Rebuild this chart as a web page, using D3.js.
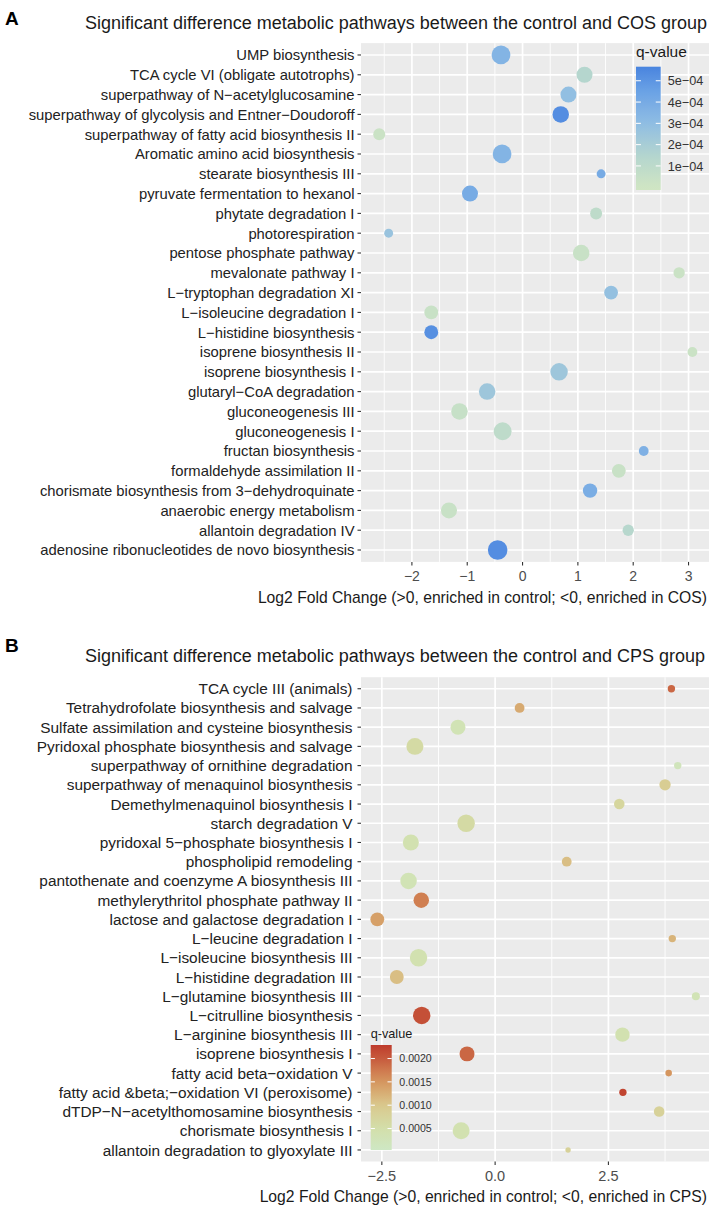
<!DOCTYPE html>
<html><head><meta charset="utf-8">
<script src="https://cdn.jsdelivr.net/npm/d3@7"></script>
<style>
body{margin:0;background:#fff;}
text{font-family:"Liberation Sans",Arial,Helvetica,sans-serif;}
</style>
</head><body>
<svg id="chart" width="714" height="1207"></svg>
<script>
// ---------- Panel A data ----------
const pathwaysA = [
  "UMP biosynthesis",
  "TCA cycle VI (obligate autotrophs)",
  "superpathway of N\u2212acetylglucosamine",
  "superpathway of glycolysis and Entner\u2212Doudoroff",
  "superpathway of fatty acid biosynthesis II",
  "Aromatic amino acid biosynthesis",
  "stearate biosynthesis III",
  "pyruvate fermentation to hexanol",
  "phytate degradation I",
  "photorespiration",
  "pentose phosphate pathway",
  "mevalonate pathway I",
  "L\u2212tryptophan degradation XI",
  "L\u2212isoleucine degradation I",
  "L\u2212histidine biosynthesis",
  "isoprene biosynthesis II",
  "isoprene biosynthesis I",
  "glutaryl\u2212CoA degradation",
  "gluconeogenesis III",
  "gluconeogenesis I",
  "fructan biosynthesis",
  "formaldehyde assimilation II",
  "chorismate biosynthesis from 3\u2212dehydroquinate",
  "anaerobic energy metabolism",
  "allantoin degradation IV",
  "adenosine ribonucleotides de novo biosynthesis"
];
const log2fcA = [-0.39, 1.12, 0.83, 0.69, -2.59, -0.37, 1.42, -0.95, 1.33, -2.42,
  1.06, 2.83, 1.60, -1.65, -1.65, 3.07, 0.66, -0.64, -1.14, -0.36,
  2.19, 1.74, 1.22, -1.33, 1.91, -0.45];
const qvalueA = [3.5e-4, 1.4e-4, 2.9e-4, 5.3e-4, 0.3e-4, 3.5e-4, 4.0e-4, 4.0e-4, 0.9e-4, 2.6e-4,
  0.4e-4, 0.3e-4, 2.8e-4, 0.4e-4, 5.2e-4, 0.3e-4, 2.4e-4, 2.4e-4, 0.5e-4, 0.9e-4,
  3.7e-4, 0.4e-4, 3.9e-4, 0.4e-4, 1.3e-4, 5.3e-4];
const countA = [22, 16, 16, 17, 9, 22, 5, 16, 9, 5,
  17, 8, 12, 12, 12, 6, 19, 17, 17, 20,
  6, 12, 13, 16, 8, 24];
const xTicksA = [-2, -1, 0, 1, 2, 3];
const legendTicksA = [1e-4, 2e-4, 3e-4, 4e-4, 5e-4];
const legendLabelsA = ["1e\u221204", "2e\u221204", "3e\u221204", "4e\u221204", "5e\u221204"];

// ---------- Panel B data ----------
const pathwaysB = [
  "TCA cycle III (animals)",
  "Tetrahydrofolate biosynthesis and salvage",
  "Sulfate assimilation and cysteine biosynthesis",
  "Pyridoxal phosphate biosynthesis and salvage",
  "superpathway of ornithine degradation",
  "superpathway of menaquinol biosynthesis",
  "Demethylmenaquinol biosynthesis I",
  "starch degradation V",
  "pyridoxal 5\u2212phosphate biosynthesis I",
  "phospholipid remodeling",
  "pantothenate and coenzyme A biosynthesis III",
  "methylerythritol phosphate pathway II",
  "lactose and galactose degradation I",
  "L\u2212leucine degradation I",
  "L\u2212isoleucine biosynthesis III",
  "L\u2212histidine degradation III",
  "L\u2212glutamine biosynthesis III",
  "L\u2212citrulline biosynthesis",
  "L\u2212arginine biosynthesis III",
  "isoprene biosynthesis I",
  "fatty acid beta\u2212oxidation V",
  "fatty acid &beta;\u2212oxidation VI (peroxisome)",
  "dTDP\u2212N\u2212acetylthomosamine biosynthesis",
  "chorismate biosynthesis I",
  "allantoin degradation to glyoxylate III"
];
const log2fcB = [3.89, 0.54, -0.82, -1.77, 4.03, 3.75, 2.74, -0.64, -1.86, 1.58,
  -1.91, -1.63, -2.60, 3.91, -1.69, -2.17, 4.43, -1.62, 2.81, -0.62,
  3.83, 2.82, 3.62, -0.75, 1.61];
const qvalueB = [0.0019, 0.0013, 0.0003, 0.0006, 0.0002, 0.0009, 0.0007, 0.0006, 0.0004, 0.0011,
  0.0003, 0.0017, 0.0014, 0.0012, 0.0004, 0.0011, 0.0003, 0.0021, 0.0004, 0.0019,
  0.0015, 0.0022, 0.0008, 0.0004, 0.0008];
const countB = [3.4, 6, 14, 18, 3.4, 8, 7, 19, 16, 6,
  17, 15, 12, 3.4, 19, 12, 4, 19, 13, 14,
  2.7, 3.4, 7, 18, 1.8];
const xTicksB = [-2.5, 0, 2.5];
const legendTicksB = [0.0005, 0.0010, 0.0015, 0.0020];
const legendLabelsB = ["0.0005", "0.0010", "0.0015", "0.0020"];

// ---------- drawing ----------
const svg = d3.select("#chart");
const rScale = d3.scaleSqrt().domain([0, 24]).range([0, 9.8]);

function drawPanel(o) {
  const g = svg.append("g");
  const x = d3.scaleLinear().domain(o.xDomain).range([o.px0, o.px1]);
  const y = d3.scalePoint().domain(o.cats).range([o.py0, o.py1]).padding(0.6);

  // panel letter & title
  g.append("text").attr("x", 5).attr("y", o.letterY).text(o.letter)
    .attr("font-size", 19).attr("font-weight", "bold").attr("fill", "#000");
  g.append("text").attr("x", 85).attr("y", o.titleY).text(o.title)
    .attr("font-size", 18).attr("fill", "#1a1a1a");

  // background
  g.append("rect").attr("x", o.px0).attr("y", o.py0)
    .attr("width", o.px1 - o.px0).attr("height", o.py1 - o.py0).attr("fill", "#ebebeb");

  // minor vertical gridlines
  const [d0, d1] = o.xDomain;
  const minor = [];
  for (let i = 0; i < o.xTicks.length - 1; i++) minor.push((o.xTicks[i] + o.xTicks[i + 1]) / 2);
  const step = o.xTicks[1] - o.xTicks[0];
  minor.push(o.xTicks[0] - step / 2, o.xTicks[o.xTicks.length - 1] + step / 2);
  g.selectAll(".minor").data(minor.filter(v => v > d0 && v < d1)).join("line")
    .attr("x1", d => x(d)).attr("x2", d => x(d)).attr("y1", o.py0).attr("y2", o.py1)
    .attr("stroke", "#fff").attr("stroke-width", 0.9);
  // major gridlines
  g.selectAll(".vmaj").data(o.xTicks).join("line")
    .attr("x1", d => x(d)).attr("x2", d => x(d)).attr("y1", o.py0).attr("y2", o.py1)
    .attr("stroke", "#fff").attr("stroke-width", 1.7);
  g.selectAll(".hmaj").data(o.cats).join("line")
    .attr("x1", o.px0).attr("x2", o.px1).attr("y1", d => y(d)).attr("y2", d => y(d))
    .attr("stroke", "#fff").attr("stroke-width", 1.7);

  // y axis labels + ticks
  g.selectAll(".ylab").data(o.cats).join("text")
    .attr("x", o.px0 - o.labelGap).attr("y", d => y(d)).attr("dy", "0.36em")
    .attr("text-anchor", "end").attr("font-size", o.labelSize).attr("fill", "#222").text(d => d);
  g.selectAll(".ytick").data(o.cats).join("line")
    .attr("x1", o.px0 - 3.5).attr("x2", o.px0).attr("y1", d => y(d)).attr("y2", d => y(d))
    .attr("stroke", "#333").attr("stroke-width", 1.1);

  // x axis ticks + labels
  g.selectAll(".xtick").data(o.xTicks).join("line")
    .attr("x1", d => x(d)).attr("x2", d => x(d)).attr("y1", o.py1).attr("y2", o.py1 + 3.5)
    .attr("stroke", "#333").attr("stroke-width", 1.1);
  g.selectAll(".xlab").data(o.xTicks).join("text")
    .attr("x", d => x(d)).attr("y", o.py1 + 14).attr("dy", "0.36em")
    .attr("text-anchor", "middle").attr("font-size", o.tickSize).attr("fill", "#4d4d4d")
    .text(o.tickFmt);
  g.append("text").attr("x", 707).attr("y", o.py1 + 35).attr("dy", "0.36em")
    .attr("text-anchor", "end").attr("font-size", 15.7).attr("fill", "#1a1a1a").text(o.xTitle);

  // points
  const idx = d3.range(o.cats.length);
  g.selectAll(".pt").data(idx).join("circle")
    .attr("cx", i => x(o.fc[i])).attr("cy", i => y(o.cats[i]))
    .attr("r", i => rScale(o.cnt[i])).attr("fill", i => o.color(o.q[i]));

  // legend colorbar
  const L = o.legend;
  const ly = d3.scaleLinear().domain(L.domain).range([L.y1, L.y0]);
  const defs = svg.append("defs");
  const grad = defs.append("linearGradient").attr("id", "grad" + o.letter)
    .attr("x1", 0).attr("y1", 1).attr("x2", 0).attr("y2", 0);
  d3.range(0, 1.0001, 0.04).forEach(t => {
    grad.append("stop").attr("offset", t)
      .attr("stop-color", o.color(L.domain[0] + t * (L.domain[1] - L.domain[0])));
  });
  g.append("text").attr("x", L.x0).attr("y", L.titleY).attr("dy", "0.36em")
    .attr("font-size", L.titleSize).attr("fill", "#1a1a1a").text("q-value");
  g.append("rect").attr("x", L.x0).attr("y", L.y0).attr("width", L.x1 - L.x0)
    .attr("height", L.y1 - L.y0).attr("fill", `url(#grad${o.letter})`);
  const tw = (L.x1 - L.x0) / 5;
  L.ticks.forEach(t => {
    g.append("line").attr("x1", L.x0).attr("x2", L.x0 + tw).attr("y1", ly(t)).attr("y2", ly(t))
      .attr("stroke", "#fff").attr("stroke-width", 1);
    g.append("line").attr("x1", L.x1 - tw).attr("x2", L.x1).attr("y1", ly(t)).attr("y2", ly(t))
      .attr("stroke", "#fff").attr("stroke-width", 1);
  });
  g.selectAll(".leglab").data(L.ticks).join("text")
    .attr("x", L.labelX).attr("y", d => ly(d)).attr("dy", "0.36em")
    .attr("font-size", L.labelSize).attr("fill", "#333")
    .text((d, i) => L.labels[i]);
}

const colorA = d3.scaleLinear()
  .domain([0, 1.5e-4, 3e-4, 4.5e-4, 5.66e-4])
  .range(["#cfe5c3", "#b3d5cf", "#8fbde3", "#6aa2e5", "#4884df"])
  .interpolate(d3.interpolateLab).clamp(true);
const colorB = d3.scaleLinear()
  .domain([0, 0.0005, 0.0010, 0.0015, 0.0020, 0.00229])
  .range(["#cde8c6", "#d3dfaa", "#d9c88d", "#d5965f", "#c75a3d", "#be3a2c"])
  .interpolate(d3.interpolateLab).clamp(true);

const fmtA = d => d < 0 ? "\u2212" + Math.abs(d) : String(d);
const fmtB = d => d < 0 ? "\u2212" + Math.abs(d).toFixed(1) : d.toFixed(1);

drawPanel({
  letter: "A", letterY: 25, titleY: 29,
  title: "Significant difference metabolic pathways between the control and COS group",
  cats: pathwaysA, fc: log2fcA, q: qvalueA, cnt: countA,
  px0: 361, px1: 709, py0: 43.1, py1: 561.9,
  xDomain: [-2.92, 3.37], xTicks: xTicksA, tickFmt: fmtA,
  labelSize: 14.8, labelGap: 6.5, tickSize: 14,
  xTitle: "Log2 Fold Change (>0, enriched in control; <0, enriched in COS)",
  color: colorA,
  legend: { x0: 636, x1: 660.7, y0: 66.7, y1: 190, domain: [-0.13e-4, 5.66e-4],
    ticks: legendTicksA, labels: legendLabelsA, labelX: 667.7, labelSize: 12.7,
    titleY: 51, titleSize: 15.5 }
});

drawPanel({
  letter: "B", letterY: 652, titleY: 662,
  title: "Significant difference metabolic pathways between the control and CPS group",
  cats: pathwaysB, fc: log2fcB, q: qvalueB, cnt: countB,
  px0: 361, px1: 709, py0: 677.2, py1: 1161.5,
  xDomain: [-2.96, 4.72], xTicks: xTicksB, tickFmt: fmtB,
  labelSize: 15.4, labelGap: 8.5, tickSize: 14.5,
  xTitle: "Log2 Fold Change (>0, enriched in control; <0, enriched in CPS)",
  color: colorB,
  legend: { x0: 370.7, x1: 391.7, y0: 1045, y1: 1150, domain: [0.00004, 0.00229],
    ticks: legendTicksB, labels: legendLabelsB, labelX: 399.3, labelSize: 10.6,
    titleY: 1033, titleSize: 12.7 }
});
</script>
</body></html>
